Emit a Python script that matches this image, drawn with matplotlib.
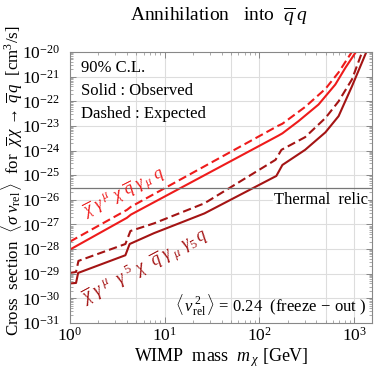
import matplotlib
matplotlib.use("Agg")
import matplotlib.pyplot as plt
from matplotlib.ticker import LogLocator, FixedLocator, NullFormatter

plt.rcParams["font.family"] = ["Liberation Serif", "DejaVu Serif"]
plt.rcParams["mathtext.fontset"] = "custom"
plt.rcParams["mathtext.rm"] = "Liberation Serif"
plt.rcParams["mathtext.it"] = "Liberation Serif:italic"
plt.rcParams["mathtext.bf"] = "Liberation Serif:bold"

# --- Data ---
# vector coupling, observed (solid) / expected (dashed)
m_vec_obs = [1.0, 4.0, 4.4, 158, 175, 258, 421, 633, 809, 1060]
s_vec_obs = [9.5e-29, 1.86e-27, 2.5e-27, 4.0e-24, 5.0e-24, 1.55e-23, 7.4e-23, 4.8e-22, 2.3e-21, 1.1e-20]

m_vec_exp = [1.0, 4.0, 4.4, 158, 175, 304, 498, 686, 960]
s_vec_exp = [2.0e-28, 3.9e-27, 5.2e-27, 1.02e-23, 1.23e-23, 5.9e-23, 3.2e-22, 1.5e-21, 1.1e-20]

# axial coupling, observed / expected
m_ax_obs = [1.0, 1.16, 1.22, 3.85, 4.27, 7.7, 26.3, 151, 175, 304, 498, 686, 950, 1360]
s_ax_obs = [4.0e-30, 4.2e-30, 1.07e-29, 5.6e-29, 1.6e-28, 4.4e-28, 2.8e-27, 9.3e-26,
            2.6e-25, 1.07e-24, 5.5e-24, 2.5e-23, 4.1e-22, 1.1e-20]

m_ax_exp = [1.0, 1.16, 1.23, 3.85, 4.35, 7.7, 26.3, 148, 171, 304, 498, 686, 950, 1225]
s_ax_exp = [1.07e-29, 1.17e-29, 3.3e-29, 1.6e-28, 5.4e-28, 1.1e-27, 7.2e-27, 4.2e-25,
            1.07e-24, 3.5e-24, 2.1e-23, 1.0e-22, 7.8e-22, 1.1e-20]

thermal_relic = 3e-26

red = "#ee1b1b"
darkred = "#a41414"

fig = plt.figure(figsize=(3.74, 3.72), dpi=100)
ax = fig.add_axes([0.187, 0.132, 0.808, 0.728])

ax.plot(m_vec_obs, s_vec_obs, color=red, lw=1.5)
ax.plot(m_vec_exp, s_vec_exp, color=red, lw=1.5, dashes=(4, 2))
ax.plot(m_ax_obs, s_ax_obs, color=darkred, lw=1.5)
ax.plot(m_ax_exp, s_ax_exp, color=darkred, lw=1.5, dashes=(4, 2))
ax.axhline(thermal_relic, color="#777777", lw=0.9)

ax.set_xscale("log")
ax.set_yscale("log")
ax.set_xlim(1, 1550)
ax.set_ylim(1e-31, 1e-20)

# grid lines
for gx in [5, 10, 50, 100, 500, 1000]:
    ax.axvline(gx, color="#dddddd", lw=0.8, zorder=0)
for e in range(-30, -20):
    ax.axhline(10.0 ** e, color="#dddddd", lw=0.8, zorder=0)

ax.xaxis.set_major_locator(FixedLocator([1, 10, 100, 1000]))
ax.set_xticklabels([r"$10^{0}$", r"$10^{1}$", r"$10^{2}$", r"$10^{3}$"])
ax.xaxis.set_minor_locator(LogLocator(base=10, subs=range(2, 10), numticks=50))
ax.xaxis.set_minor_formatter(NullFormatter())
yt = [10.0 ** e for e in range(-31, -19)]
ax.yaxis.set_major_locator(FixedLocator(yt))
ax.set_yticklabels([r"$10^{%d}$" % e for e in range(-31, -19)])
ax.yaxis.set_minor_locator(LogLocator(base=10, subs=range(2, 10), numticks=50))
ax.yaxis.set_minor_formatter(NullFormatter())

ax.tick_params(which="both", direction="in", top=True, right=True, color="#888888")
ax.tick_params(which="major", length=4, width=0.7, labelsize=12.5)
ax.tick_params(axis="y", which="major", pad=7)
ax.tick_params(axis="x", which="major", pad=3)
ax.tick_params(which="minor", length=2, width=0.5)
for sp in ax.spines.values():
    sp.set_color("#888888")
    sp.set_linewidth(0.8)

ax.set_xlabel(r"WIMP  mass  $m_{\,\chi}$ [GeV]", fontsize=13, labelpad=1)
fig.text(0.032, 0.515,
         r"Cross  section  $\langle\sigma\ v_{\rm rel}\,\rangle$  for  $\overline{\chi}\,\chi\,\rightarrow\,\overline{q}\,q$  [cm$^{3}$/s]",
         fontsize=12.2, rotation=90, ha="center", va="center")
fig.text(0.585, 0.955, r"Annihilation   into  $\overline{q}\;q$", ha="center", va="center", fontsize=14)

ax.text(0.035, 0.94, "90% C.L.", transform=ax.transAxes, fontsize=12, va="center")
ax.text(0.035, 0.855, "Solid : Observed", transform=ax.transAxes, fontsize=12, va="center")
ax.text(0.035, 0.77, "Dashed : Expected", transform=ax.transAxes, fontsize=12, va="center")
ax.text(0.985, 0.455, "Thermal  relic", transform=ax.transAxes, fontsize=12, ha="right", va="center",
        bbox=dict(facecolor="white", edgecolor="none", pad=0.5))
ax.text(0.98, 0.065, r"$\langle\, v_{\rm rel}^{\,2}\,\rangle$ = 0.24  (freeze$\,-\,$out )", transform=ax.transAxes,
        fontsize=12, ha="right", va="center")

ax.text(3.7, 1.9e-26, r"$\overline{\chi}\ \gamma^{\ \mu}\ \chi\ \overline{q}\ \gamma_{\ \mu}\ q$",
        color=red, fontsize=12.5, rotation=27, ha="center", va="center")
ax.text(6.2, 1.9e-29, r"$\overline{\chi}\ \gamma^{\ \mu}\ \ \gamma^{\ 5}\ \chi\ \ \overline{q}\ \gamma_{\ \mu}\ \gamma_{5}\, q$",
        color=darkred, fontsize=13, rotation=28, ha="center", va="center")

fig.savefig("out.png", dpi=100)
